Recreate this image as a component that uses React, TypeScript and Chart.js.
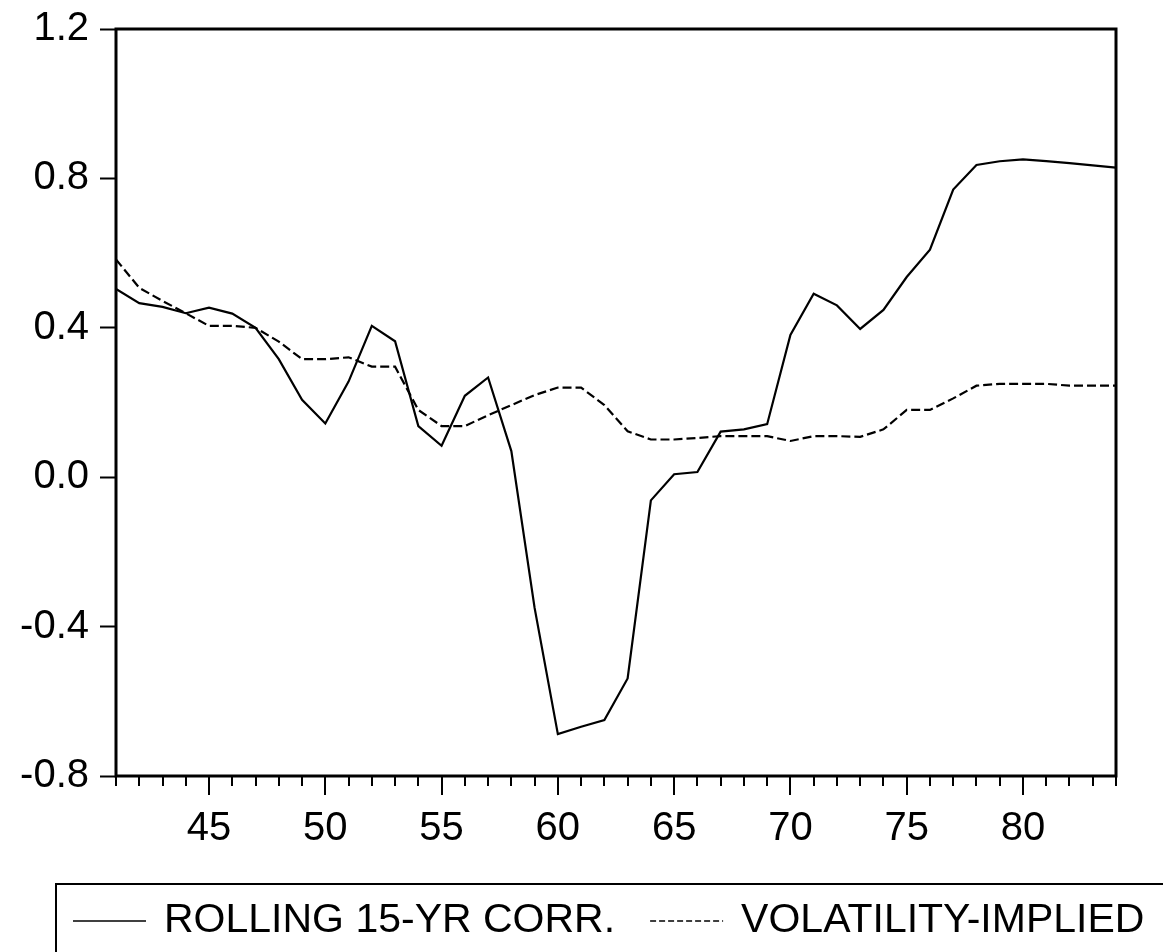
import React, { useEffect, useRef } from "react";
import { Chart, registerables } from "chart.js";

Chart.register(...registerables);

// ---- data ----
const years = [
  41, 42, 43, 44, 45, 46, 47, 48, 49, 50, 51, 52, 53, 54, 55, 56, 57, 58, 59, 60, 61, 62,
  63, 64, 65, 66, 67, 68, 69, 70, 71, 72, 73, 74, 75, 76, 77, 78, 79, 80, 81, 82, 83, 84,
];
const rollingCorr = [
  0.504, 0.466, 0.456, 0.439, 0.454, 0.438, 0.4, 0.316, 0.207, 0.144, 0.256, 0.405, 0.364,
  0.137, 0.084, 0.218, 0.267, 0.07, -0.35, -0.688, -0.668, -0.65, -0.539, -0.062, 0.008,
  0.014, 0.122, 0.128, 0.142, 0.381, 0.491, 0.46, 0.397, 0.448, 0.536, 0.609, 0.77, 0.836,
  0.846, 0.851, 0.846, 0.841, 0.835, 0.829,
];
const volImplied = [
  0.583, 0.507, 0.472, 0.439, 0.405, 0.405, 0.4, 0.363, 0.316, 0.316, 0.321, 0.296, 0.296,
  0.18, 0.137, 0.137, 0.166, 0.193, 0.22, 0.24, 0.24, 0.193, 0.123, 0.101, 0.101, 0.105,
  0.11, 0.11, 0.11, 0.097, 0.11, 0.11, 0.108, 0.128, 0.18, 0.18, 0.211, 0.245, 0.25, 0.25,
  0.25, 0.245, 0.245, 0.245,
];
const seriesLabels = ["ROLLING 15-YR CORR.", "VOLATILITY-IMPLIED"];
const xLabelYears = [45, 50, 55, 60, 65, 70, 75, 80];
const yMin = -0.8;
const yMax = 1.2;
const yStep = 0.4;

const FONT = "Arial, 'Liberation Sans', Helvetica, sans-serif";
const W = 1163;
const H = 952;

const framePlugin = {
  id: "frameAndLegend",
  afterDraw(chart: any) {
    const { ctx, chartArea: a, scales } = chart;
    const xs = scales.x;
    ctx.save();
    ctx.strokeStyle = "#000";
    ctx.fillStyle = "#000";
    // x ticks (minor every year, major every 5)
    ctx.lineWidth = 2;
    ctx.setLineDash([]);
    for (const t of xs.ticks) {
      const v = Math.round(t.value);
      const px = Math.round(xs.getPixelForValue(v));
      const len = v % 5 === 0 ? 19 : 10;
      ctx.beginPath();
      ctx.moveTo(px, a.bottom);
      ctx.lineTo(px, a.bottom + len);
      ctx.stroke();
    }
    // frame
    ctx.lineWidth = 3;
    ctx.strokeRect(a.left, a.top, a.right - a.left, a.bottom - a.top);

    // legend box
    const lg = { left: 56, top: 884, sx: 73, sLen: 73, gap: 18, itemGap: 35, y: 921 };
    ctx.lineWidth = 2;
    ctx.strokeRect(lg.left, lg.top, W, H);
    ctx.font = `41px ${FONT}`;
    ctx.textBaseline = "middle";
    ctx.textAlign = "left";
    let x = lg.sx;
    chart.data.datasets.forEach((ds: any, i: number) => {
      ctx.lineWidth = 1.5;
      ctx.setLineDash(i === 1 ? [6, 3] : []);
      ctx.beginPath();
      ctx.moveTo(x, lg.y);
      ctx.lineTo(x + lg.sLen, lg.y);
      ctx.stroke();
      ctx.setLineDash([]);
      x += lg.sLen + lg.gap;
      ctx.fillText(ds.label, x, lg.y);
      x += ctx.measureText(ds.label).width + lg.itemGap;
    });
    ctx.restore();
  },
};

export default function App() {
  const ref = useRef<HTMLCanvasElement | null>(null);
  useEffect(() => {
    if (!ref.current) return;
    const chart = new Chart(ref.current, {
      type: "line",
      data: {
        datasets: [
          {
            label: seriesLabels[0],
            data: years.map((x, i) => ({ x, y: rollingCorr[i] })),
            borderColor: "#000",
            borderWidth: 2.2,
            pointRadius: 0,
            tension: 0,
            fill: false,
          },
          {
            label: seriesLabels[1],
            data: years.map((x, i) => ({ x, y: volImplied[i] })),
            borderColor: "#000",
            borderWidth: 2.2,
            borderDash: [9, 4],
            pointRadius: 0,
            tension: 0,
            fill: false,
          },
        ],
      },
      options: {
        animation: false,
        responsive: false,
        devicePixelRatio: 1,
        events: [],
        layout: { padding: { left: 0, top: 29, right: 47, bottom: 0 } },
        plugins: { legend: { display: false }, tooltip: { enabled: false } },
        scales: {
          x: {
            type: "linear",
            min: years[0],
            max: years[years.length - 1],
            grid: { display: false },
            border: { display: false },
            afterFit: (s: any) => {
              s.height = 176;
              s.paddingLeft = 0;
              s.paddingRight = 0;
            },
            ticks: {
              stepSize: 1,
              autoSkip: false,
              maxRotation: 0,
              minRotation: 0,
              padding: 21,
              color: "#000",
              font: { family: FONT, size: 40 },
              callback: (v: any) => {
                const n = Math.round(Number(v));
                return xLabelYears.includes(n) ? String(n) : "";
              },
            },
          },
          y: {
            min: yMin,
            max: yMax,
            grid: {
              display: true,
              drawOnChartArea: false,
              drawTicks: true,
              tickLength: 16,
              tickWidth: 2,
              tickColor: "#000",
              color: "#000",
            },
            border: { display: false },
            afterFit: (s: any) => {
              s.width = 116;
              s.paddingTop = 0;
              s.paddingBottom = 0;
            },
            ticks: {
              stepSize: yStep,
              padding: 11,
              color: "#000",
              font: { family: FONT, size: 40 },
              callback: (v: any) => Number(v).toFixed(1),
            },
          },
        },
      },
      plugins: [framePlugin],
    });
    return () => chart.destroy();
  }, []);
  return (
    <div style={{ position: "absolute", left: 0, top: 0, width: W, height: H, background: "#fff" }}>
      <canvas ref={ref} width={W} height={H} style={{ display: "block" }} />
    </div>
  );
}
